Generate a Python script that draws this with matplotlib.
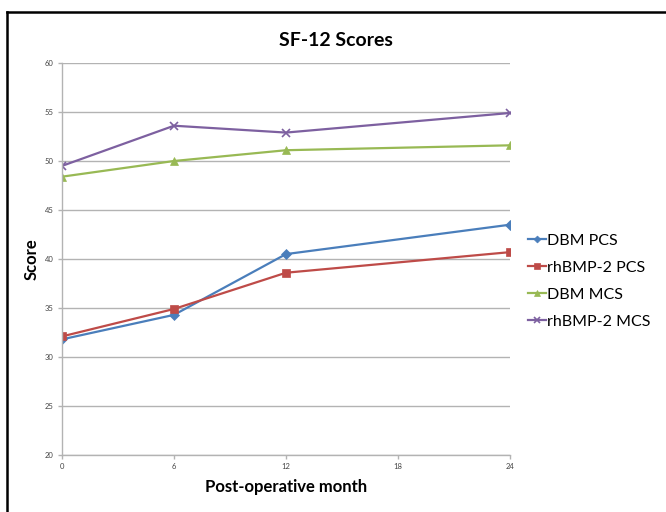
import matplotlib
matplotlib.use("Agg")
import matplotlib.pyplot as plt
from matplotlib.lines import Line2D

plt.rcParams['font.family'] = ['Lato', 'DejaVu Sans']

months = [0, 6, 12, 24]
dbm_pcs = [31.8, 34.3, 40.5, 43.5]
rhbmp_pcs = [32.1, 34.9, 38.6, 40.7]
dbm_mcs = [48.4, 50.0, 51.1, 51.6]
rhbmp_mcs = [49.5, 53.6, 52.9, 54.9]

series = [
    ("DBM PCS", dbm_pcs, "#4a7ebb", "D", 5),
    ("rhBMP-2 PCS", rhbmp_pcs, "#be4b48", "s", 6),
    ("DBM MCS", dbm_mcs, "#98b954", "^", 6),
    ("rhBMP-2 MCS", rhbmp_mcs, "#7d60a0", "x", 6),
]

fig = plt.figure(figsize=(6.66, 5.12), dpi=100)
ax = fig.add_axes([62/666, 57/512, 448/666, 392/512])

for name, vals, col, mk, ms in series:
    ax.plot(months, vals, color=col, lw=1.6, marker=mk, markersize=ms,
            markeredgewidth=1.2 if mk == "x" else 0.5, label=name)

ax.set_xlim(0, 24)
ax.set_ylim(20, 60)
ax.set_xticks([0, 6, 12, 18, 24])
ax.set_yticks(range(20, 61, 5))
ax.yaxis.grid(True, color="#b3b3b3", lw=1)
ax.set_axisbelow(True)
for s in ["top", "right"]:
    ax.spines[s].set_visible(False)
for s in ["left", "bottom"]:
    ax.spines[s].set_color("#b3b3b3")
    ax.spines[s].set_linewidth(1)
ax.tick_params(axis="both", labelsize=5.5, colors="#b3b3b3", labelcolor="#444444",
               length=3, width=1)
ax.tick_params(axis="y", pad=3)
ax.tick_params(axis="x", pad=3)

fig.text(336/666, 1 - 40/512, "SF-12 Scores", fontsize=14, fontweight="bold",
         ha="center", va="center")
ax.set_xlabel("Post-operative month", fontsize=12, fontweight="bold", labelpad=6)
ax.set_ylabel("Score", fontsize=12, fontweight="bold", labelpad=4)

ax.legend(loc="center left", bbox_to_anchor=(528/666, 1 - 281/512),
          bbox_transform=fig.transFigure, frameon=False, fontsize=11.5,
          handlelength=1.1, handletextpad=0.1, labelspacing=0.8, borderpad=0,
          borderaxespad=0, markerscale=0.7)

# outer frame (top and left edges only)
fig.add_artist(Line2D([7/666, 7/666], [0, 1 - 12/512], color="black", lw=1.8,
                      transform=fig.transFigure))
fig.add_artist(Line2D([7/666, 1], [1 - 12/512, 1 - 12/512], color="black", lw=1.8,
                      transform=fig.transFigure))

fig.savefig("out.png", dpi=100)
